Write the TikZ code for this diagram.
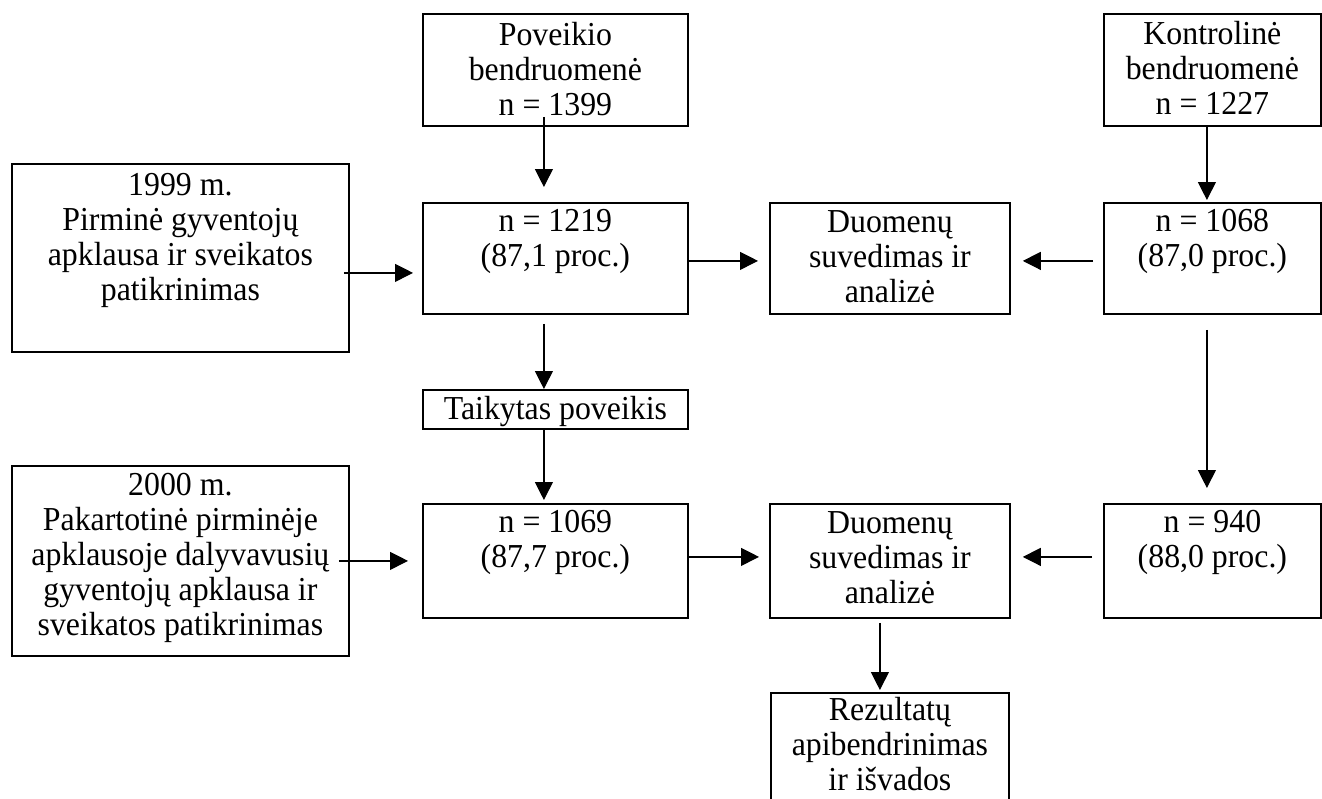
\documentclass[tikz,border=0pt]{standalone}
\usepackage{fontspec}
\setmainfont{Liberation Serif}[FakeStretch=0.95]
\usetikzlibrary{arrows.meta}
\tikzset{
 box/.style={draw, line width=1.8pt, inner sep=0pt, anchor=north west},
 txt/.style={align=center, inner sep=0pt, anchor=north, font=\fontsize{33.5}{35}\selectfont},
 arr/.style={-{Triangle[length=18pt,width=18pt]}, line width=1.2pt},
}
\newcommand\topst{\rule{0pt}{26pt}}
\begin{document}
\begin{tikzpicture}[x=1pt,y=-1pt]
\useasboundingbox (0,0) rectangle (1322,798);
\clip (0,0) rectangle (1322,798);
% boxes
\node[box, minimum width=265pt, minimum height=112pt] (pov) at (422,13) {};
\node[box, minimum width=217pt, minimum height=112pt] (kon) at (1103,13) {};
\node[box, minimum width=337pt, minimum height=188pt] (y1999) at (11,163) {};
\node[box, minimum width=265pt, minimum height=111pt] (n1219) at (422,202) {};
\node[box, minimum width=240pt, minimum height=111pt] (d1) at (769,202) {};
\node[box, minimum width=217pt, minimum height=111pt] (n1068) at (1103,202) {};
\node[box, minimum width=265pt, minimum height=39pt] (taik) at (422,389) {};
\node[box, minimum width=337pt, minimum height=190pt] (y2000) at (11,465) {};
\node[box, minimum width=265pt, minimum height=114pt] (n1069) at (422,503) {};
\node[box, minimum width=240pt, minimum height=114pt] (d2) at (769,503) {};
\node[box, minimum width=217pt, minimum height=114pt] (n940) at (1103,503) {};
\node[box, minimum width=238pt, minimum height=140pt] (rez) at (770,692) {};
% texts
\node[txt] (povt) at ([yshift=-6pt]pov.north) {\topst Poveikio\\bendruomenė\\n = 1399};
\node[txt] (kont) at ([yshift=-5pt]kon.north) {\topst Kontrolinė\\bendruomenė\\n = 1227};
\node[txt] (y1999t) at ([yshift=-6pt]y1999.north) {\topst 1999 m.\\Pirminė gyventojų\\apklausa ir sveikatos\\patikrinimas};
\node[txt] (n1219t) at ([yshift=-3pt]n1219.north) {\topst n = 1219\\(87,1 proc.)};
\node[txt] (d1t) at ([yshift=-4pt]d1.north) {\topst Duomenų\\suvedimas ir\\analizė};
\node[txt] (n1068t) at ([yshift=-3pt]n1068.north) {\topst n = 1068\\(87,0 proc.)};
\node[txt] (taikt) at ([yshift=-4pt]taik.north) {\topst Taikytas poveikis};
\node[txt] (y2000t) at ([yshift=-4pt]y2000.north) {\topst 2000 m.\\Pakartotinė pirminėje\\apklausoje dalyvavusių\\gyventojų apklausa ir\\sveikatos patikrinimas};
\node[txt] (n1069t) at ([yshift=-3pt]n1069.north) {\topst n = 1069\\(87,7 proc.)};
\node[txt] (d2t) at ([yshift=-4pt]d2.north) {\topst Duomenų\\suvedimas ir\\analizė};
\node[txt] (n940t) at ([yshift=-3pt]n940.north) {\topst n = 940\\(88,0 proc.)};
\node[txt] (rezt) at ([yshift=-2pt]rez.north) {\topst Rezultatų\\apibendrinimas\\ir išvados};
% connectors
\draw[arr, shorten <=-10pt, shorten >=15pt] ([xshift=-11.5pt]pov.south) -- ([xshift=-11.5pt]n1219.north);
\draw[arr, shorten >=2pt] ([xshift=-5.5pt]kon.south) -- ([xshift=-5.5pt]n1068.north);
\draw[arr, shorten <=-6pt, shorten >=9pt] ([yshift=-15pt]y1999.east) -- ([yshift=-15pt]y1999.east -| n1219.west);
\draw[arr, shorten >=11pt] ([yshift=-2.5pt]n1219.east) -- ([yshift=-2.5pt]n1219.east -| d1.west);
\draw[arr, shorten <=10pt, shorten >=12pt] ([yshift=-2.5pt]n1068.west) -- ([yshift=-2.5pt]n1068.west -| d1.east);
\draw[arr, shorten <=9pt] ([xshift=-11.5pt]n1219.south) -- ([xshift=-11.5pt]taik.north);
\draw[arr, shorten >=3pt] ([xshift=-11.5pt]taik.south) -- ([xshift=-11.5pt]n1069.north);
\draw[arr, shorten <=15pt, shorten >=15pt] ([xshift=-5.5pt]n1068.south) -- ([xshift=-5.5pt]n940.north);
\draw[arr, shorten <=-11pt, shorten >=14pt] (y2000.east) -- (y2000.east -| n1069.west);
\draw[arr, shorten >=10pt] ([yshift=4pt]n1069.east) -- ([yshift=4pt]n1069.east -| d2.west);
\draw[arr, shorten <=11pt, shorten >=12pt] ([yshift=4pt]n940.west) -- ([yshift=4pt]n940.west -| d2.east);
\draw[arr, shorten <=4pt, shorten >=2pt] ([xshift=-10pt]d2.south) -- ([xshift=-10pt]d2.south |- rez.north);
\end{tikzpicture}
\end{document}
